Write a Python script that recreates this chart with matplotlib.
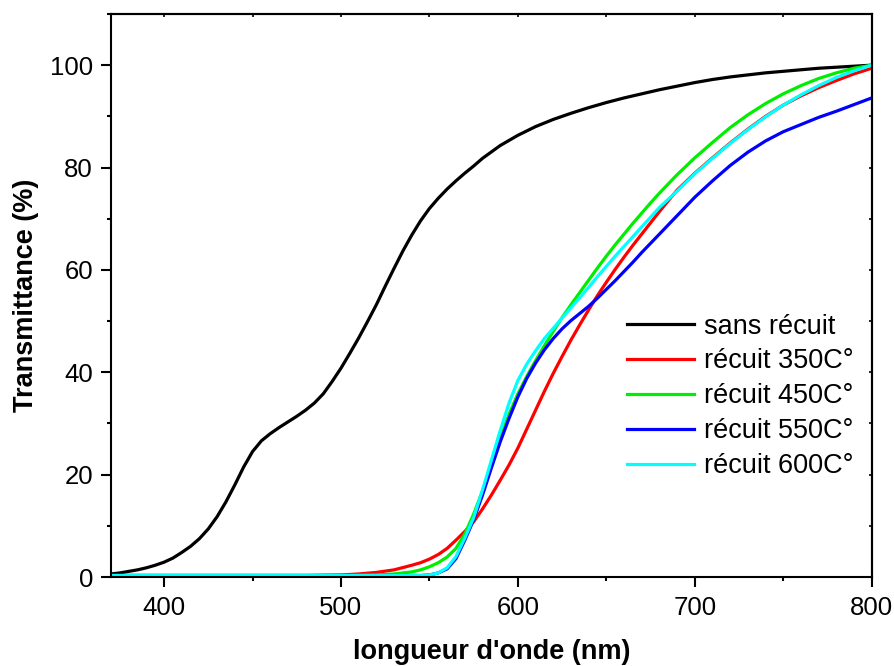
import numpy as np
from matplotlib import pyplot as plt
from matplotlib.ticker import MultipleLocator

# valeurs (longueur d'onde en nm, transmittance en %)
wl_sans = [370, 375, 380, 385, 390, 395, 400, 405, 410, 415, 420, 425, 430, 435, 440,
           445, 450, 455, 460, 465, 470, 475, 480, 485, 490, 495, 500, 505, 510, 515,
           520, 525, 530, 535, 540, 545, 550, 555, 560, 565, 570, 575, 580, 590, 600,
           610, 620, 630, 640, 650, 660, 670, 680, 690, 700, 710, 720, 730, 740, 750,
           760, 770, 780, 790, 800]
t_sans = [0.6, 0.8, 1.1, 1.4, 1.8, 2.3, 2.9, 3.7, 4.8, 6.0, 7.5, 9.4, 11.8, 14.7, 18.0,
          21.5, 24.5, 26.6, 28.0, 29.2, 30.3, 31.4, 32.6, 34.0, 35.8, 38.2, 40.8, 43.7, 46.7, 49.9,
          53.2, 56.8, 60.3, 63.7, 66.8, 69.6, 72.0, 74.0, 75.8, 77.4, 78.9, 80.3, 81.8, 84.3, 86.3,
          88.0, 89.4, 90.6, 91.7, 92.7, 93.6, 94.4, 95.2, 95.9, 96.6, 97.2, 97.7, 98.1, 98.5, 98.8,
          99.1, 99.4, 99.6, 99.8, 100.0]

wl_350 = [370, 480, 500, 510, 520, 530, 540, 545, 550, 555, 560, 565, 570, 575, 580,
          585, 590, 595, 600, 605, 610, 615, 620, 625, 630, 635, 640, 645, 650, 655,
          660, 665, 670, 675, 680, 690, 700, 710, 720, 730, 740, 750, 760, 770, 780,
          790, 800]
t_350 = [0.3, 0.3, 0.4, 0.6, 0.9, 1.4, 2.3, 2.8, 3.5, 4.4, 5.6, 7.2, 8.9, 10.8, 13.3,
         16.0, 18.9, 21.9, 25.2, 28.9, 32.6, 36.3, 39.8, 43.1, 46.3, 49.3, 52.2, 55.0, 57.6, 60.1,
         62.5, 64.8, 67.0, 69.2, 71.4, 75.6, 78.9, 81.9, 84.8, 87.5, 90.0, 92.2, 94.0, 95.6, 97.0,
         98.3, 99.4]

wl_450 = [370, 500, 520, 530, 540, 545, 550, 555, 560, 565, 570, 575, 580, 585, 590,
          595, 600, 605, 610, 615, 620, 625, 630, 635, 640, 645, 650, 655, 660, 665,
          670, 675, 680, 690, 700, 710, 720, 730, 740, 750, 760, 770, 780, 790, 800]
t_450 = [0.3, 0.3, 0.4, 0.6, 1.0, 1.4, 2.0, 2.8, 3.9, 5.6, 8.4, 12.3, 16.8, 21.8, 27.0,
         31.8, 35.8, 39.2, 42.3, 45.2, 48.0, 50.7, 53.2, 55.6, 58.0, 60.4, 62.7, 64.9, 67.0, 69.1,
         71.1, 73.1, 75.0, 78.6, 81.9, 84.9, 87.8, 90.3, 92.5, 94.4, 96.0, 97.4, 98.5, 99.4, 100.0]

wl_550 = [370, 545, 550, 555, 560, 565, 570, 575, 580, 585, 590, 595, 600, 605, 610,
          615, 620, 625, 630, 635, 640, 645, 650, 655, 660, 665, 670, 675, 680, 690,
          700, 710, 720, 730, 740, 750, 760, 770, 780, 790, 800]
t_550 = [0.3, 0.3, 0.4, 0.8, 1.6, 3.6, 7.2, 11.2, 16.0, 21.3, 26.4, 31.0, 35.2, 38.8, 41.8,
         44.4, 46.6, 48.5, 50.1, 51.5, 52.9, 54.5, 56.2, 57.9, 59.7, 61.5, 63.4, 65.2, 67.0, 70.6,
         74.2, 77.4, 80.4, 83.0, 85.2, 87.0, 88.4, 89.8, 91.0, 92.3, 93.6]

wl_600 = [370, 545, 550, 555, 560, 565, 570, 575, 580, 585, 590, 595, 600, 605, 610,
          615, 620, 625, 630, 635, 640, 645, 650, 655, 660, 665, 670, 675, 680, 690,
          700, 710, 720, 730, 740, 750, 760, 770, 780, 790, 800]
t_600 = [0.3, 0.3, 0.4, 0.8, 1.8, 4.0, 7.6, 11.6, 17.0, 22.8, 28.6, 34.0, 38.4, 41.6, 44.2,
         46.6, 48.6, 50.6, 52.6, 54.6, 56.6, 58.7, 60.7, 62.7, 64.6, 66.5, 68.4, 70.3, 72.2, 75.4,
         78.8, 81.8, 84.7, 87.4, 89.9, 92.2, 94.2, 96.0, 97.6, 98.9, 100.0]

labels = ['sans récuit', 'récuit 350C°', 'récuit 450C°', 'récuit 550C°', 'récuit 600C°']
colors = ['#000000', '#ff0000', '#00ee00', '#0000ff', '#00ffff']

plt.rcParams['font.family'] = ['Liberation Sans', 'DejaVu Sans']

fig = plt.figure(figsize=(8.95, 6.66), dpi=100)
ax = fig.add_axes([0.124, 0.1336, 0.850, 0.8454])

series = [(wl_sans, t_sans), (wl_350, t_350), (wl_450, t_450),
          (wl_550, t_550), (wl_600, t_600)]
for (x, y), lab, c in zip(series, labels, colors):
    ax.plot(x, y, color=c, lw=2.3, label=lab)

ax.set_xlim(370, 800)
ax.set_ylim(0, 110)
ax.xaxis.set_major_locator(MultipleLocator(100))
ax.xaxis.set_minor_locator(MultipleLocator(50))
ax.yaxis.set_minor_locator(MultipleLocator(10))
ax.set_yticks([0, 20, 40, 60, 80, 100])

for s in ax.spines.values():
    s.set_linewidth(1.5)

ax.tick_params(which='both', direction='out', width=1.5, labelsize=18.5)
ax.tick_params(which='major', length=7, pad=6)
ax.tick_params(which='minor', length=3)
ax.tick_params(axis='x', which='major', pad=7)

# petites graduations internes en haut et à droite
top = ax.secondary_xaxis('top')
top.xaxis.set_major_locator(MultipleLocator(100))
top.xaxis.set_minor_locator(MultipleLocator(50))
top.tick_params(which='both', direction='in', length=2.5, width=1.2, labeltop=False)
right = ax.secondary_yaxis('right')
right.set_yticks([0, 20, 40, 60, 80, 100])
right.yaxis.set_minor_locator(MultipleLocator(10))
right.tick_params(which='both', direction='in', length=2.5, width=1.2, labelright=False)
for sec in (top, right):
    for s in sec.spines.values():
        s.set_linewidth(1.5)

ax.set_xlabel("longueur d'onde (nm)", fontsize=19.5, fontweight='bold', labelpad=13)
ax.set_ylabel('Transmittance (%)', fontsize=19.5, fontweight='bold', labelpad=8)

ax.legend(loc='upper left', bbox_to_anchor=(0.678, 0.468), frameon=False,
          fontsize=19.5, handlelength=2.5, handletextpad=0.37, labelspacing=0.33,
          borderaxespad=0, borderpad=0)

fig.savefig('out.png', dpi=100)
